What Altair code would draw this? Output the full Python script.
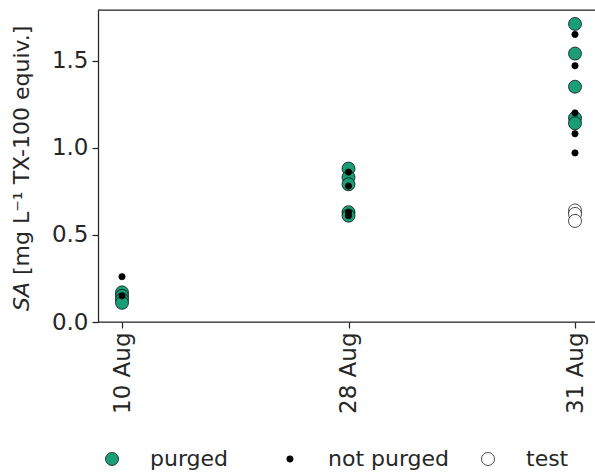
import altair as alt
import pandas as pd

dates = ["10 Aug", "28 Aug", "31 Aug"]

purged_date = ["10 Aug"] * 4 + ["28 Aug"] * 5 + ["31 Aug"] * 5
purged_sa = [0.17, 0.15, 0.13, 0.11, 0.88, 0.83, 0.79, 0.63, 0.61, 1.71, 1.54, 1.35, 1.17, 1.14]

notpurged_date = ["10 Aug"] * 2 + ["28 Aug"] * 4 + ["31 Aug"] * 5
notpurged_sa = [0.26, 0.15, 0.86, 0.78, 0.63, 0.61, 1.65, 1.47, 1.20, 1.08, 0.97]

test_date = ["31 Aug"] * 3
test_sa = [0.64, 0.62, 0.58]

groups = ["purged", "not purged", "test"]
fills = ["#1b9e77", "#000000", "#ffffff"]
strokes = ["#000000", "#000000", "#000000"]
sizes = [169, 40, 169]

rows = []
for d, v in zip(purged_date, purged_sa):
    rows.append({"date": d, "sa": v, "group": "purged"})
for d, v in zip(notpurged_date, notpurged_sa):
    rows.append({"date": d, "sa": v, "group": "not purged"})
for d, v in zip(test_date, test_sa):
    rows.append({"date": d, "sa": v, "group": "test"})
df = pd.DataFrame(rows)

W, H = 497, 312
AX = "#262626"
FONT = "DejaVu Sans"
FS = 23
LFS = 22
TFS = 22

leg = alt.Legend(title=None, orient="none", direction="horizontal",
                 legendX=3, legendY=438, labelFontSize=LFS,
                 labelFont=FONT, labelColor=AX, labelOffset=27,
                 columnPadding=27, symbolStrokeWidth=0.7, symbolType="circle",
                 padding=0,
                 labelExpr="datum.label == 'purged' ? 'purged\u00a0\u2800' : datum.label")

points = alt.Chart(df).mark_circle(
    strokeWidth=0.7, opacity=1
).encode(
    x=alt.X("date:O", sort=dates,
            scale=alt.Scale(type="point", domain=dates, range=[24, 477], padding=0),
            axis=alt.Axis(title=None, labelAngle=270, tickSize=6, tickWidth=1.25,
                          tickColor=AX, domain=False,
                          labelFontSize=FS, labelFont=FONT, labelColor=AX,
                          labelPadding=4, grid=False)),
    y=alt.Y("sa:Q", scale=alt.Scale(domain=[0, 1.79], nice=False, zero=False),
            axis=alt.Axis(title=None, values=[0, 0.5, 1.0, 1.5], format=".1f",
                          tickSize=6, tickWidth=1.25, tickColor=AX,
                          domainColor=AX, domainWidth=1.25,
                          labelFontSize=FS, labelFont=FONT, labelColor=AX,
                          labelPadding=4, grid=False)),
    fill=alt.Fill("group:N", scale=alt.Scale(domain=groups, range=fills), legend=leg),
    stroke=alt.Stroke("group:N", scale=alt.Scale(domain=groups, range=strokes), legend=leg),
    size=alt.Size("group:N", scale=alt.Scale(type="ordinal", domain=groups, range=sizes),
                  legend=leg),
)

top_spine = alt.Chart(pd.DataFrame({"a": [0]})).mark_rule(
    color=AX, strokeWidth=1.25
).encode(x=alt.value(0), x2=alt.value(W), y=alt.value(0))

bottom_spine = alt.Chart(pd.DataFrame({"a": [0]})).mark_rule(
    color=AX, strokeWidth=1.25
).encode(x=alt.value(0), x2=alt.value(W), y=alt.value(H))

Y0 = 301
title_sa = alt.Chart(pd.DataFrame({"t": ["SA"]})).mark_text(
    angle=270, align="left", baseline="middle", font=FONT, fontSize=TFS,
    fontStyle="italic", color=AX
).encode(text="t:N", x=alt.value(-76), y=alt.value(Y0))

title_rest = alt.Chart(pd.DataFrame({"t": ["[mg L\u207b\u00b9 TX-100 equiv.]"]})).mark_text(
    angle=270, align="left", baseline="middle", font=FONT, fontSize=TFS,
    color=AX
).encode(text="t:N", x=alt.value(-76), y=alt.value(Y0 - 36))

chart = alt.layer(top_spine, bottom_spine, points, title_sa, title_rest).properties(
    width=W, height=H,
    autosize=alt.AutoSizeParams(type="none"),
    padding={"left": 98, "top": 10, "right": 0, "bottom": 475 - 10 - H},
).configure_view(stroke=None).configure(background="white")

chart.save("out.html", embed_options={"renderer": "svg", "actions": False})
